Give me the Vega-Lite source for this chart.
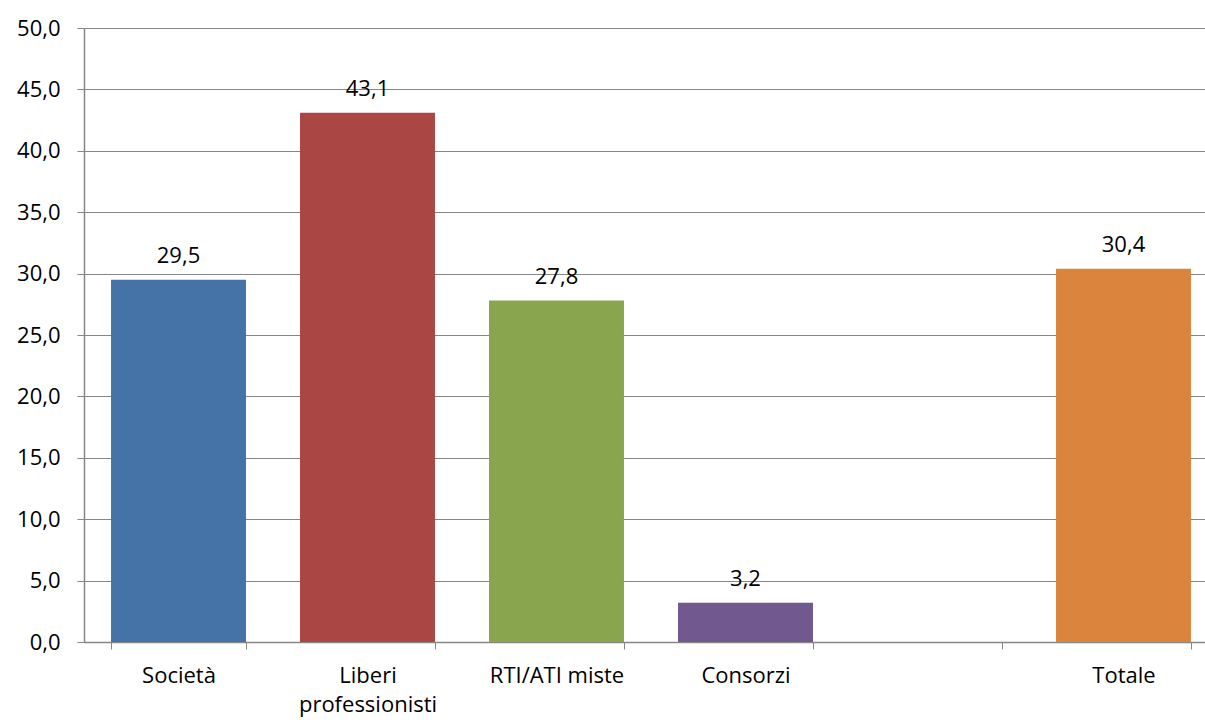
{
  "$schema": "https://vega.github.io/schema/vega-lite/v6.json",
  "autosize": "none",
  "width": 1134,
  "height": 614,
  "padding": {"left": 84, "top": 28, "right": 0, "bottom": 81},
  "background": "white",
  "config": {
    "view": {"stroke": null},
    "locale": {"number": {"decimal": ",", "thousands": ".", "grouping": [3], "currency": ["", " €"]}},
    "font": "Open Sans"
  },
  "data": {
    "values": [
      {"categoria": "Società", "valore": 29.5},
      {"categoria": "Liberi professionisti", "valore": 43.1},
      {"categoria": "RTI/ATI miste", "valore": 27.8},
      {"categoria": "Consorzi", "valore": 3.2},
      {"categoria": "Totale", "valore": 30.4}
    ]
  },
  "encoding": {
    "x": {
      "field": "categoria",
      "type": "nominal",
      "sort": null,
      "scale": {
        "domain": ["Società", "Liberi professionisti", "RTI/ATI miste", "Consorzi", " ", "Totale"],
        "paddingInner": 0.286,
        "paddingOuter": 0.143
      },
      "axis": {
        "title": null,
        "labelAngle": 0,
        "labelExpr": "datum.value == 'Liberi professionisti' ? ['Liberi', 'professionisti'] : datum.value",
        "labelFontSize": 22,
        "labelColor": "#000000",
        "labelPadding": 16,
        "labelFont": "Open Sans",
        "tickBand": "extent",
        "tickSize": 7,
        "tickColor": "#868686",
        "domainColor": "#868686",
        "domainWidth": 1.5,
        "labelLineHeight": 29,
        "grid": false
      }
    },
    "y": {
      "field": "valore",
      "type": "quantitative",
      "scale": {"domain": [0, 50], "nice": false},
      "axis": {
        "title": null,
        "values": [0, 5, 10, 15, 20, 25, 30, 35, 40, 45, 50],
        "format": ".1f",
        "labelFontSize": 22,
        "labelColor": "#000000",
        "labelPadding": 17,
        "labelFont": "Open Sans",
        "tickSize": 7,
        "tickColor": "#868686",
        "domainColor": "#868686",
        "domainWidth": 1.5,
        "grid": true,
        "gridColor": "#868686",
        "gridWidth": 1
      }
    }
  },
  "layer": [
    {
      "mark": {"type": "bar"},
      "encoding": {
        "color": {
          "field": "categoria",
          "type": "nominal",
          "scale": {
            "domain": ["Società", "Liberi professionisti", "RTI/ATI miste", "Consorzi", "Totale"],
            "range": ["#4572A7", "#AA4643", "#89A54E", "#71588F", "#DB843D"]
          },
          "legend": null
        }
      }
    },
    {
      "mark": {"type": "text", "baseline": "alphabetic", "dy": -17, "fontSize": 22, "color": "#000000", "font": "Open Sans"},
      "encoding": {
        "text": {"field": "valore", "type": "quantitative", "format": ".1f"}
      }
    }
  ]
}
